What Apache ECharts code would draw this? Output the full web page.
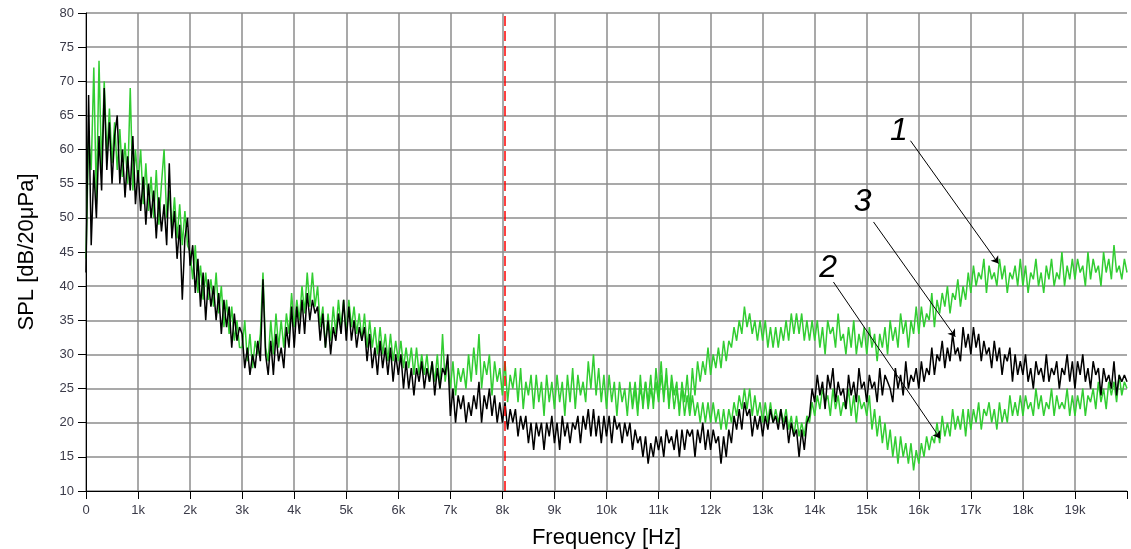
<!DOCTYPE html>
<html>
<head>
<meta charset="utf-8">
<style>
  html, body { margin: 0; padding: 0; background: #fff; }
  #main { width: 1131px; height: 549px; }
</style>
<script src="https://cdn.jsdelivr.net/npm/echarts@6.0.0/dist/echarts.min.js"></script>
</head>
<body>
<div id="main"></div>
<script>
// spectra, one value every 50 Hz
var freqStep = 50;
var xTicks = ['0', '1k', '2k', '3k', '4k', '5k', '6k', '7k', '8k', '9k',
  '10k', '11k', '12k', '13k', '14k', '15k', '16k', '17k', '18k', '19k'];

// curve 1 (green, upper at high frequencies), from 0 Hz
var curve1 = [
  44,62,57,72,52,73,57,70,59,66,58,64,57,63,56,61,55,69,54,60,
  55,60,52,58,51,56,50,57,49,55,60,50,54,48,53,47,52,46,51,46,
  45,41,46,39,43,38,42,38,41,37,42,36,40,34,38,33,37,32,35,31,
  31,35,29,33,28,32,30,33,42,31,29,35,30,36,31,35,31,36,33,39,
  34,38,35,40,36,42,37,42,37,40,34,37,31,36,32,37,33,38,34,38,
  33,38,34,37,33,36,32,36,31,35,31,34,30,34,30,33,29,33,29,32,
  29,32,28,31,28,31,27,31,27,30,27,30,26,29,26,30,25,33,26,29,
  25,29,24,28,26,28,25,30,26,31,27,33,25,29,27,30,24,29,26,28,
  24,29,23,27,25,28,23,28,22,26,24,27,22,27,23,26,21,27,23,26,
  22,27,23,26,21,27,23,28,22,27,24,26,23,29,25,30,24,28,23,27,
  22,27,23,26,21,26,23,25,21,26,22,25,21,27,22,26,23,27,22,28,
  24,29,23,28,22,27,24,26,21,26,23,27,22,28,24,29,26,29,27,31,
  27,30,28,31,28,32,29,32,31,34,32,35,33,37,34,36,33,35,32,35,
  32,35,31,34,31,34,31,34,32,35,32,36,33,36,33,36,32,35,32,35,
  32,35,31,34,30,35,33,34,31,36,32,33,30,34,31,35,30,33,31,34,
  30,34,31,33,29,33,31,34,30,35,32,34,31,36,33,35,31,35,33,37,
  33,37,34,36,35,39,34,38,36,39,37,40,36,39,38,41,37,40,38,42,
  39,43,40,42,41,44,39,43,41,42,40,44,41,43,39,42,41,43,40,44,
  40,43,39,42,41,44,40,42,39,43,41,44,40,42,41,45,40,43,41,44,
  41,44,42,43,40,45,41,44,42,43,40,45,42,44,41,46,42,43,41,44,
  42
];

// curve 2 (green, lower at high frequencies), where it leaves curve 1
var curve2Start = 10500;
var curve2 = [
  23,26,22,25,23,26,22,25,23,26,
  23,27,24,27,23,26,22,25,22,25,21,24,21,24,21,23,20,23,20,23,
  20,23,20,22,19,22,19,22,20,23,21,24,22,25,22,25,21,24,21,23,
  20,23,20,23,20,22,20,22,20,22,19,21,18,21,18,20,18,21,20,23,
  21,24,22,25,23,24,21,25,22,24,21,23,22,25,21,24,20,24,22,23,
  21,24,19,22,18,21,17,20,16,19,15,18,14,18,15,17,14,17,13,16,
  14,17,15,18,16,18,17,20,17,21,18,20,18,22,19,21,19,22,18,22,
  19,22,20,23,19,22,21,23,20,22,19,23,20,22,20,24,21,23,21,24,
  21,24,22,23,21,25,22,24,21,23,22,25,21,24,22,23,22,25,21,24,
  21,24,22,25,21,24,23,25,22,26,23,25,22,26,24,26,23,27,24,26,
  25
];

// curve 3 (black), from 0 Hz
var curve3 = [
  42,68,46,57,50,62,54,69,57,64,55,62,65,55,60,53,59,54,62,52,
  57,51,56,49,55,50,54,47,53,48,52,46,58,47,51,44,49,38,47,50,
  43,46,39,44,37,42,35,41,37,40,35,39,33,38,34,37,31,36,32,34,
  33,28,31,27,30,28,32,29,41,30,27,32,27,33,29,31,28,34,31,37,
  31,37,33,38,33,39,35,38,36,37,32,36,31,35,30,34,32,36,33,38,
  32,37,32,35,31,34,32,34,29,33,28,31,27,32,28,31,27,31,26,30,
  27,30,25,29,25,28,24,28,26,29,25,28,26,29,24,28,25,28,27,30,
  21,25,20,24,22,24,20,23,21,24,22,26,20,24,22,25,21,24,20,23,
  20,23,19,22,20,22,18,21,19,21,17,20,16,20,18,20,16,20,18,21,
  17,20,16,21,18,20,17,20,19,21,17,21,19,22,18,22,18,21,17,21,
  18,21,17,21,19,20,17,20,18,20,16,19,17,18,15,18,14,17,15,18,
  16,18,15,19,17,18,16,19,15,19,16,19,18,19,15,19,17,20,16,19,
  16,19,17,18,14,18,15,19,17,21,19,22,19,23,21,22,18,21,19,21,
  18,21,19,22,20,21,19,22,19,21,17,20,18,19,15,19,16,20,21,25,
  23,27,24,26,22,27,25,28,23,26,24,25,22,27,24,26,23,28,25,26,
  23,27,25,26,23,28,24,27,26,25,23,28,25,27,24,29,25,27,26,28,
  25,29,26,28,27,31,27,30,29,32,28,31,29,33,30,31,29,34,31,33,
  30,34,31,33,29,32,30,31,28,32,29,31,27,30,29,31,26,30,27,29,
  27,30,26,28,25,29,27,28,26,30,26,28,27,29,25,28,27,30,26,29,
  25,29,27,30,26,28,25,29,27,28,24,28,26,27,25,29,24,27,26,27,
  26
];

// red cursor line across the whole level range
var cursorFreq = 8050;
var cursorLevels = [10, 80];

// curve numbers with their pointer lines, in data units [Hz, dB]
var notes = [
  { text: '1', at: [15620, 62.7], from: [15840, 61.3], to: [17530, 43.3] },
  { text: '3', at: [14920, 52.3], from: [15130, 49.4], to: [16700, 32.6] },
  { text: '2', at: [14260, 42.6], from: [14360, 40.6], to: [16410, 17.7] }
];

function toPairs(arr, start) {
  return arr.map(function (v, i) { return [start + i * freqStep, v]; });
}

var font = '"Liberation Sans", Arial, sans-serif';
var gridColor = '#8c8c8c';
var labelColor = '#3a3a48';
var green = '#32cd32';

var myChart = echarts.init(document.getElementById('main'));
var option = {
  animation: false,
  backgroundColor: '#fff',
  grid: { left: 86, right: 4, top: 13, bottom: 58, outerBoundsMode: 'none', containLabel: false },
  xAxis: {
    type: 'value',
    min: 0,
    max: 20000,
    interval: 1000,
    name: 'Frequency [Hz]',
    nameLocation: 'middle',
    nameGap: 36,
    nameTextStyle: { fontFamily: font, fontSize: 22, color: '#000' },
    axisLine: { show: true, onZero: false, lineStyle: { color: '#000', width: 1 } },
    axisTick: { show: true, length: 8, lineStyle: { color: '#000' } },
    axisLabel: {
      fontFamily: font, fontSize: 13, color: labelColor, margin: 13,
      formatter: function (v) { var t = xTicks[Math.round(v / 1000)]; return t === undefined ? '' : t; }
    },
    splitLine: { show: true, showMaxLine: false, lineStyle: { color: gridColor, width: 1.5 } }
  },
  yAxis: {
    type: 'value',
    min: 10,
    max: 80,
    interval: 5,
    name: 'SPL [dB/20μPa]',
    nameLocation: 'middle',
    nameGap: 48,
    nameTextStyle: { fontFamily: font, fontSize: 22, color: '#000' },
    axisLine: { show: true, lineStyle: { color: '#000', width: 1 } },
    axisTick: { show: true, length: 8, lineStyle: { color: '#000' } },
    axisLabel: { fontFamily: font, fontSize: 13, color: labelColor, margin: 12 },
    splitLine: { show: true, lineStyle: { color: gridColor, width: 1.5 } }
  },
  series: [
    {
      name: '1',
      type: 'line',
      data: toPairs(curve1, 0),
      symbol: 'none',
      lineStyle: { color: green, width: 1.5 },
      markPoint: {
        silent: true,
        symbol: 'circle',
        symbolSize: 1,
        itemStyle: { color: 'rgba(0,0,0,0)' },
        label: {
          show: true, position: 'inside', color: '#000',
          fontFamily: font, fontSize: 32, fontStyle: 'italic'
        },
        data: notes.map(function (n) { return { coord: n.at, value: n.text }; })
      }
    },
    {
      name: '2',
      type: 'line',
      data: toPairs(curve2, curve2Start),
      symbol: 'none',
      lineStyle: { color: green, width: 1.5 },
      markLine: {
        silent: true,
        symbol: ['none', 'arrow'],
        symbolSize: 7,
        label: { show: false },
        lineStyle: { color: '#000', width: 1, type: 'solid' },
        data: notes.map(function (n) { return [{ coord: n.from }, { coord: n.to }]; })
      }
    },
    {
      name: '3',
      type: 'line',
      data: toPairs(curve3, 0),
      symbol: 'none',
      lineStyle: { color: '#000', width: 1.5 }
    },
    {
      name: 'cursor',
      type: 'line',
      data: cursorLevels.map(function (v) { return [cursorFreq, v]; }),
      symbol: 'none',
      silent: true,
      lineStyle: { color: '#ff0000', width: 1.5, type: [10, 5] }
    }
  ]
};
myChart.setOption(option);
</script>
</body>
</html>
